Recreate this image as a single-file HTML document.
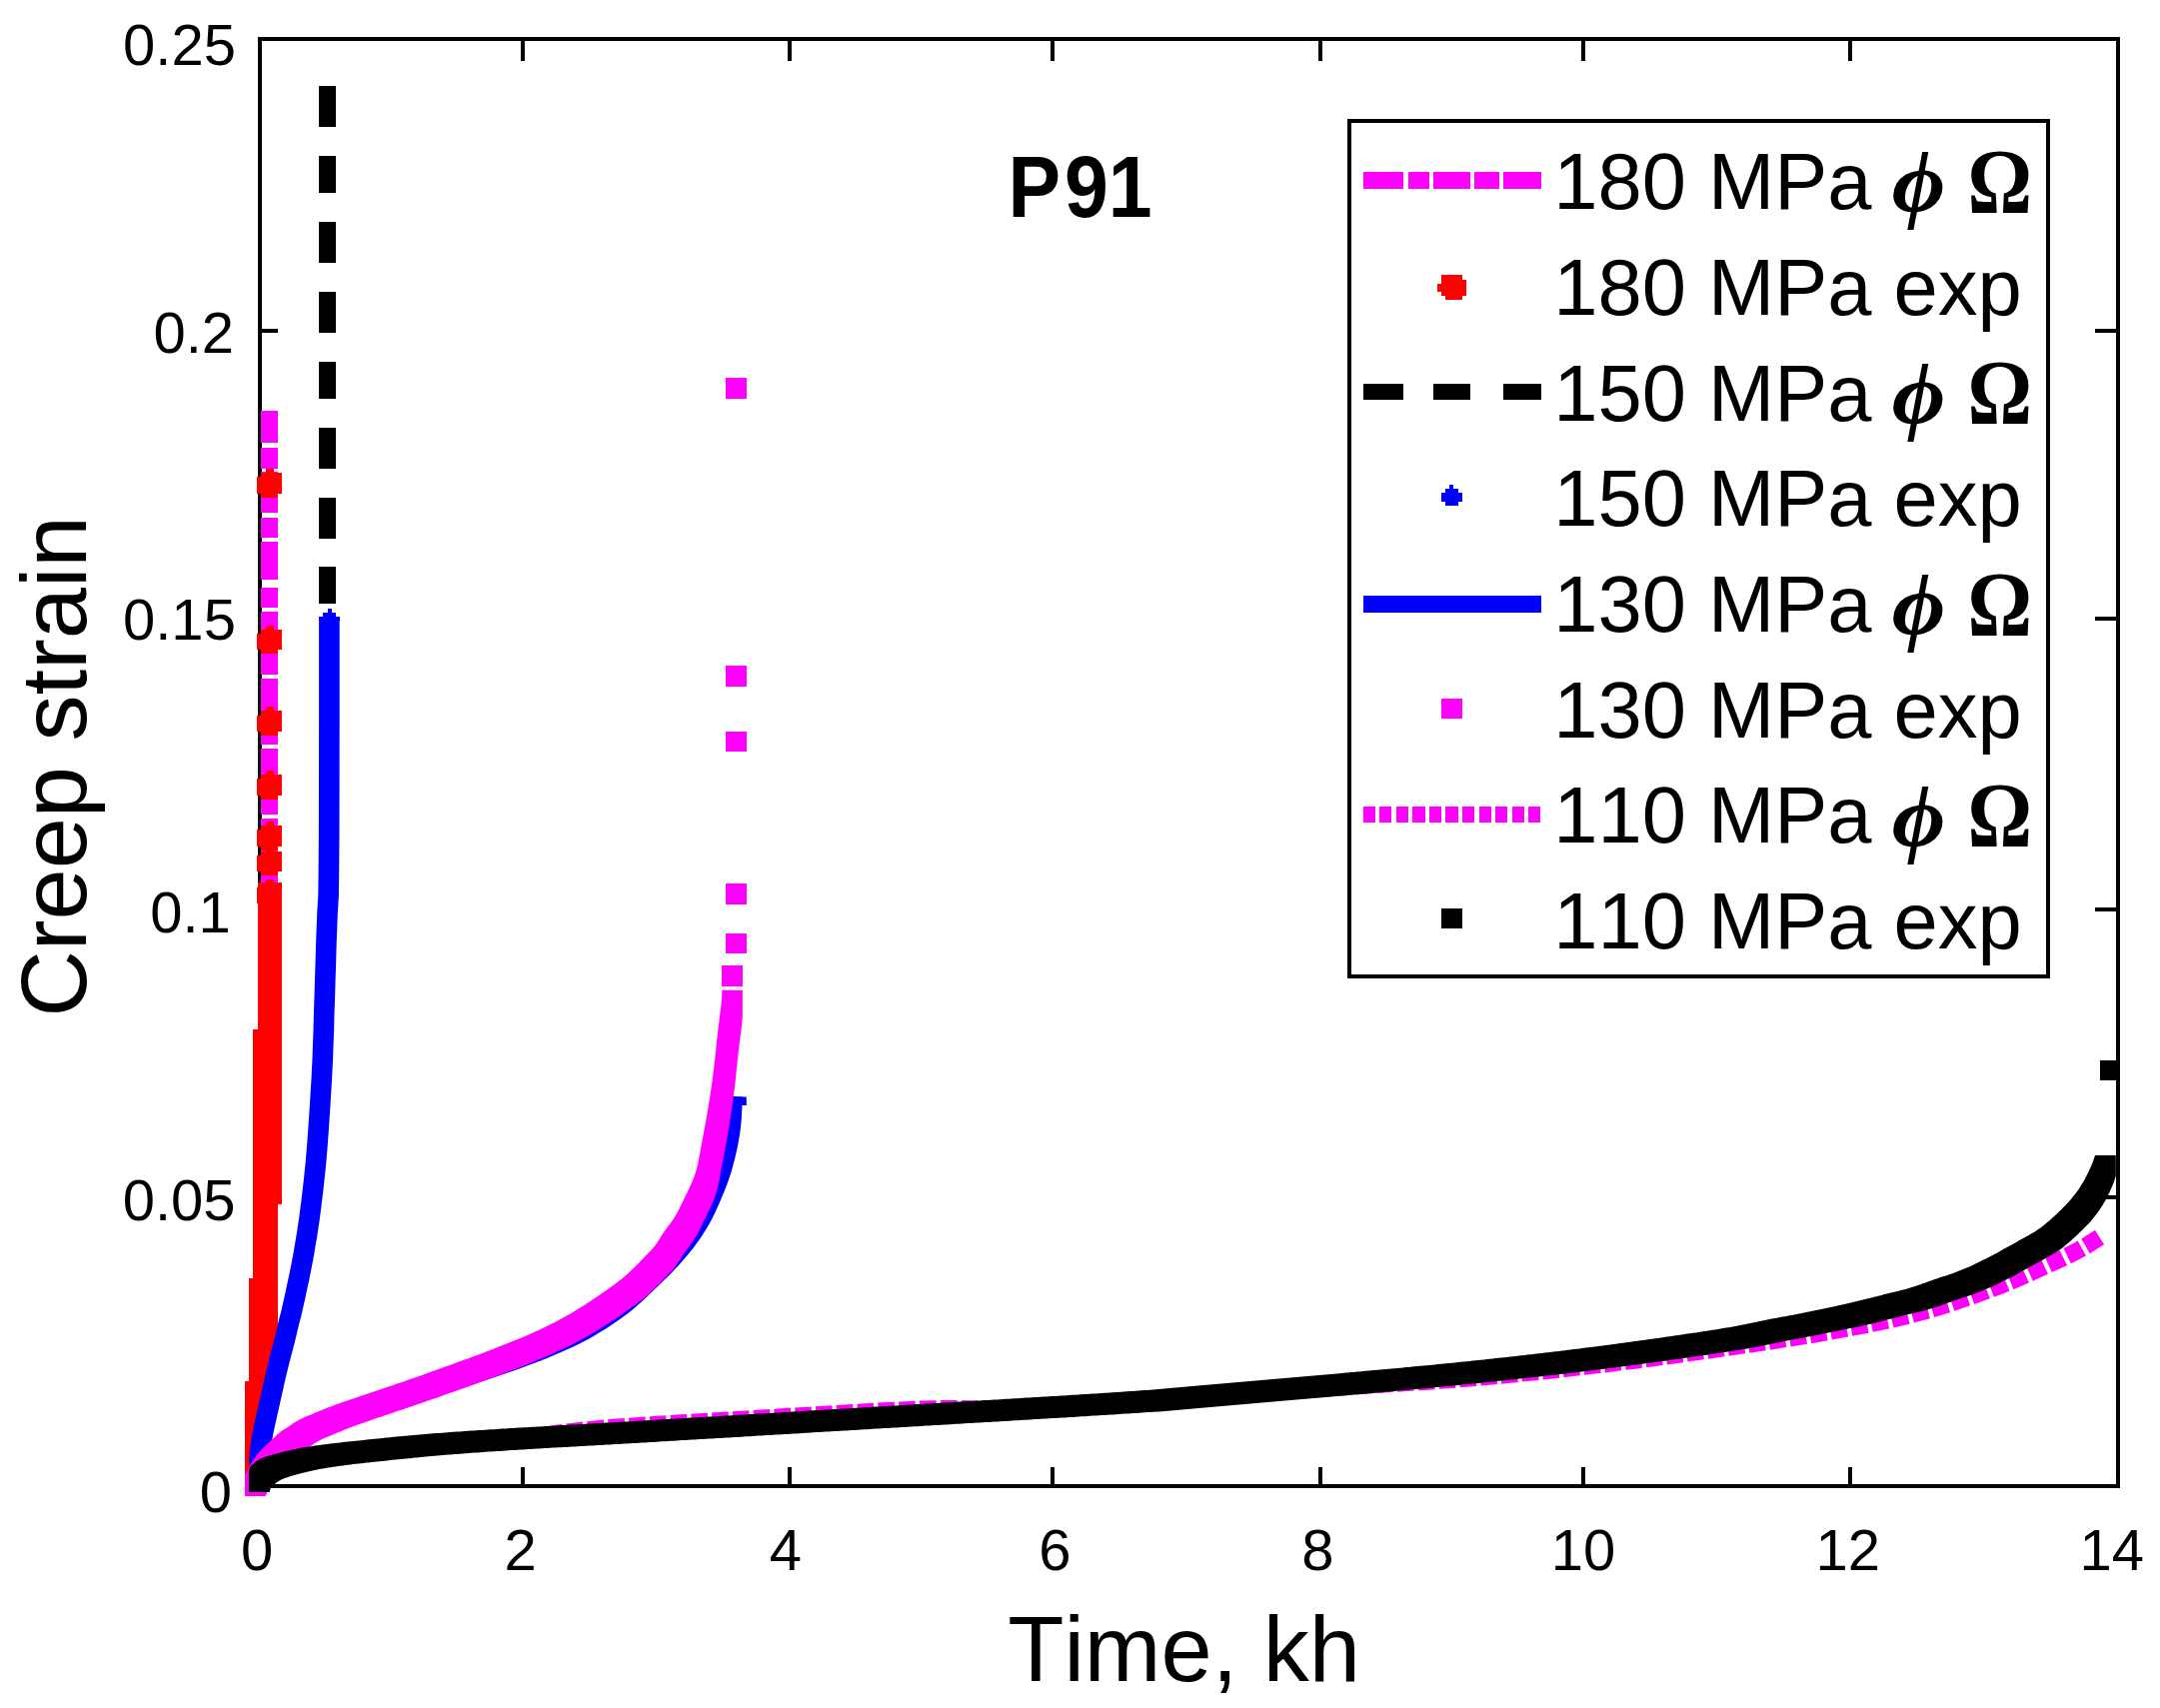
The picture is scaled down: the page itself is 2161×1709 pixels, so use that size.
<!DOCTYPE html>
<html lang="en"><head><meta charset="utf-8"><title>P91 creep strain</title>
<style>html,body{margin:0;padding:0;background:#fff;width:2161px;height:1709px;overflow:hidden}svg{display:block}text{font-family:"Liberation Sans",sans-serif;fill:#000;font-kerning:none}.sy{font-family:"Liberation Serif",serif;font-weight:bold}</style></head><body>
<svg width="2161" height="1709" viewBox="0 0 2161 1709">
<rect x="0" y="0" width="2161" height="1709" fill="#ffffff"/>
<g shape-rendering="crispEdges">
<rect x="259.6" y="38.9" width="1859.1" height="1447.9" fill="none" stroke="#000" stroke-width="3.9"/>
<rect x="520.8" y="1468.3" width="4" height="18.5" fill="#000000"/>
<rect x="520.8" y="38.9" width="4" height="22.5" fill="#000000"/>
<rect x="788.1" y="1468.3" width="4" height="18.5" fill="#000000"/>
<rect x="788.1" y="38.9" width="4" height="22.5" fill="#000000"/>
<rect x="1051.2" y="1468.3" width="4" height="18.5" fill="#000000"/>
<rect x="1051.2" y="38.9" width="4" height="22.5" fill="#000000"/>
<rect x="1318.5" y="1468.3" width="4" height="18.5" fill="#000000"/>
<rect x="1318.5" y="38.9" width="4" height="22.5" fill="#000000"/>
<rect x="1582.2" y="1468.3" width="4" height="18.5" fill="#000000"/>
<rect x="1582.2" y="38.9" width="4" height="22.5" fill="#000000"/>
<rect x="1849.3" y="1468.3" width="4" height="18.5" fill="#000000"/>
<rect x="1849.3" y="38.9" width="4" height="22.5" fill="#000000"/>
<rect x="259.6" y="1195.5" width="18.4" height="4" fill="#000000"/>
<rect x="2096" y="1195.5" width="22.7" height="4" fill="#000000"/>
<rect x="259.6" y="908" width="18.4" height="4" fill="#000000"/>
<rect x="2096" y="908" width="22.7" height="4" fill="#000000"/>
<rect x="259.6" y="617" width="18.4" height="4" fill="#000000"/>
<rect x="2096" y="617" width="22.7" height="4" fill="#000000"/>
<rect x="259.6" y="329" width="18.4" height="4" fill="#000000"/>
<rect x="2096" y="329" width="22.7" height="4" fill="#000000"/>
</g>
<g shape-rendering="crispEdges">
<rect x="261.4" y="410.7" width="16.6" height="32.6" fill="#ff00ff"/>
<rect x="261.4" y="447.8" width="16.6" height="21.2" fill="#ff00ff"/>
<rect x="261.4" y="472" width="16.6" height="41.3" fill="#ff00ff"/>
<rect x="261.4" y="517.9" width="16.6" height="19.7" fill="#ff00ff"/>
<rect x="261.4" y="542.2" width="16.6" height="38.1" fill="#ff00ff"/>
<rect x="261.4" y="587.9" width="16.6" height="19.8" fill="#ff00ff"/>
<rect x="261.4" y="612.2" width="16.6" height="62.4" fill="#ff00ff"/>
<rect x="261.4" y="679.2" width="16.6" height="65.5" fill="#ff00ff"/>
<rect x="261.4" y="749.2" width="16.6" height="65.4" fill="#ff00ff"/>
<rect x="261.4" y="818.6" width="16.6" height="71.4" fill="#ff00ff"/>
<rect x="244.8" y="1382" width="25.2" height="44" fill="#ff0000"/>
<rect x="244.8" y="1425" width="15.2" height="52" fill="#ff0000"/>
<rect x="248.7" y="1279" width="29.3" height="104" fill="#ff0000"/>
<rect x="253" y="1204" width="25" height="76" fill="#ff0000"/>
<rect x="253" y="1030" width="29" height="175" fill="#ff0000"/>
<rect x="257.6" y="883" width="24.4" height="148" fill="#ff0000"/>
</g>
<g shape-rendering="crispEdges">
<polygon fill="#ff0000" points="265.6,468.9 273.9,468.9 273.9,472.9 282,472.9 282,493.6 277.9,493.6 277.9,497.7 261.1,497.7 261.1,493.6 257,493.6 257,477 261.1,477 261.1,472.9 265.6,472.9"/>
<polygon fill="#ff0000" points="265.6,625.6 273.9,625.6 273.9,629.6 282,629.6 282,650.3 277.9,650.3 277.9,654.4 261.1,654.4 261.1,650.3 257,650.3 257,633.7 261.1,633.7 261.1,629.6 265.6,629.6"/>
<polygon fill="#ff0000" points="265.6,707.4 273.9,707.4 273.9,711.4 282,711.4 282,732.1 277.9,732.1 277.9,736.2 261.1,736.2 261.1,732.1 257,732.1 257,715.5 261.1,715.5 261.1,711.4 265.6,711.4"/>
<polygon fill="#ff0000" points="265.6,771.1 273.9,771.1 273.9,775.1 282,775.1 282,795.8 277.9,795.8 277.9,799.9 261.1,799.9 261.1,795.8 257,795.8 257,779.2 261.1,779.2 261.1,775.1 265.6,775.1"/>
<polygon fill="#ff0000" points="265.6,822.3 273.9,822.3 273.9,826.3 282,826.3 282,847 277.9,847 277.9,851.1 261.1,851.1 261.1,847 257,847 257,830.4 261.1,830.4 261.1,826.3 265.6,826.3"/>
<polygon fill="#ff0000" points="265.6,847.6 273.9,847.6 273.9,851.6 282,851.6 282,872.3 277.9,872.3 277.9,876.4 261.1,876.4 261.1,872.3 257,872.3 257,855.7 261.1,855.7 261.1,851.6 265.6,851.6"/>
<polygon fill="#ff0000" points="265.6,879.6 273.9,879.6 273.9,883.6 282,883.6 282,904.3 277.9,904.3 277.9,908.4 261.1,908.4 261.1,904.3 257,904.3 257,887.7 261.1,887.7 261.1,883.6 265.6,883.6"/>
</g>
<g shape-rendering="crispEdges">
<rect x="319" y="86.2" width="16.5" height="41" fill="#000000"/>
<rect x="319" y="156" width="16.5" height="37.2" fill="#000000"/>
<rect x="319" y="222" width="16.5" height="40.8" fill="#000000"/>
<rect x="319" y="292" width="16.5" height="40.6" fill="#000000"/>
<rect x="319" y="361.8" width="16.5" height="36.7" fill="#000000"/>
<rect x="319" y="427.5" width="16.5" height="41" fill="#000000"/>
<rect x="319" y="497.5" width="16.5" height="41" fill="#000000"/>
<rect x="319" y="567.4" width="16.5" height="36.6" fill="#000000"/>
</g>
<path d="M259.5 1478 L259.5 1476.6 L259.5 1473.7 L259.5 1469.4 L259.5 1463.6 L259.7 1457.8 L260.2 1451.9 L261 1446 L261.9 1440 L262.9 1434.3 L264 1428.9 L265.1 1423.9 L266.2 1419.1 L267.2 1414.4 L268.3 1409.8 L269.3 1405.2 L270.3 1400.8 L271.3 1396.2 L272.3 1391.6 L273.4 1386.9 L274.4 1382.1 L275.5 1377.6 L276.5 1373.2 L277.5 1369 L278.5 1365 L279.5 1361 L280.6 1357 L281.6 1353 L282.7 1349 L283.7 1344.9 L284.8 1340.8 L285.8 1336.6 L286.8 1332.4 L287.8 1328.2 L288.8 1324.1 L289.8 1320 L290.9 1316 L291.9 1311.8 L292.9 1307.4 L293.9 1302.9 L295 1298.1 L296 1293.4 L297 1288.6 L298 1283.9 L299.1 1279.1 L300.1 1274.2 L301.1 1269.1 L302.1 1263.8 L303.2 1258.2 L304.2 1252.5 L305.2 1246.4 L306.3 1240.1 L307.4 1233.4 L308.4 1226.5 L309.5 1219.2 L310.5 1211.7 L311.5 1203.8 L312.5 1195.5 L313.5 1186.8 L314.5 1177.8 L315.5 1168.2 L316.5 1157.4 L317.5 1145.1 L318.5 1131.5 L319.5 1116.5 L320.4 1102.9 L321.1 1090.8 L321.8 1080.1 L322.2 1070.9 L322.8 1059.8 L323.2 1046.8 L323.8 1031.9 L324.2 1015.1 L324.8 997.9 L325.3 980.3 L325.9 962.2 L326.4 943.8 L327 927.9 L327.5 914.8 L328.1 904.4 L328.6 896.6 L328.9 874.1 L329.2 836.7 L329.3 784.5 L329.4 717.5 L329.4 667.2 L329.4 633.8 L329.4 617" fill="none" stroke="#0000ff" stroke-width="20.6" stroke-linejoin="round"/>
<polygon shape-rendering="crispEdges" fill="#0000ff" points="327.6,609 331.5,609 331.5,613 335.8,613 335.8,617 339.7,617 339.7,621 319.1,621 319.1,617 323,617 323,613 327.6,613"/>
<path d="M259.5 1485 L260.2 1483.3 L261.5 1479.9 L263.4 1474.9 L266.1 1468.1 L269.7 1461.9 L274.2 1456.3 L279.8 1451.2 L286.2 1446.8 L294 1442.2 L303.1 1437.6 L313.5 1432.9 L325.1 1428.1 L339.6 1422.6 L357 1416.2 L377.2 1409 L400.3 1401 L423.5 1393.1 L446.6 1385.2 L469.8 1377.4 L493 1369.6 L513.3 1362.6 L530.8 1356.2 L545.5 1350.5 L557.3 1345.5 L567.8 1340.8 L577.1 1336.3 L585.1 1332.1 L591.8 1328.1 L598.3 1324.2 L604.6 1320.2 L610.7 1316.2 L616.6 1312.2 L622.5 1307.8 L628.6 1302.9 L634.7 1297.5 L640.9 1291.7 L647.1 1285.9 L653.2 1280 L659.2 1274 L665.3 1268.1 L671.1 1262 L676.6 1255.8 L682 1249.5 L687.1 1243.1 L691.6 1237 L695.6 1231.3 L699.1 1225.8 L702 1220.8 L705 1215.2 L708 1209.1 L711 1202.5 L714 1195.4 L716.8 1188.7 L719.3 1182.3 L721.5 1176.2 L723.4 1170.4 L725.2 1164 L727 1157 L728.8 1149.4 L730.4 1141.2 L731.8 1133 L732.8 1124.9 L733.5 1116.9 L733.9 1108.9 L734.1 1103 L734.3 1099 L734.4 1097" fill="none" stroke="#0000ff" stroke-width="17" stroke-linejoin="round"/>
<rect x="734" y="1097.5" width="12.8" height="8.5" fill="#0000ff"/>
<polygon fill="#ff00ff" points="245,1497 245,1476.4 245.3,1475.7 246.1,1474.2 246.9,1472.4 247.8,1470.8 248.7,1469 249.7,1467.1 250.7,1465.3 251.7,1463.5 252.7,1461.9 253.7,1460.3 254.7,1458.8 255.7,1457.4 256.7,1456.1 257.7,1454.8 258.7,1453.6 259.8,1452.5 260.8,1451.4 261.8,1450.3 262.8,1449.2 263.9,1448.2 264.9,1447.2 266,1446.2 267.1,1445.2 268.1,1444.2 269.2,1443.2 270.3,1442.2 271.4,1441.2 272.4,1440.2 273.4,1439.2 274.5,1438.2 275.5,1437.2 276.5,1436.2 277.5,1435.3 278.5,1434.4 279.6,1433.5 280.7,1432.6 281.9,1431.7 283.1,1430.9 284.5,1430 285.9,1429.2 287.4,1428.2 288.9,1427.2 290.4,1426.2 292,1425.1 293.6,1424 295.2,1423 296.9,1421.9 298.8,1420.9 300.7,1419.9 302.6,1419 304.6,1418.1 306.8,1417.2 309,1416.3 311.2,1415.4 313.3,1414.5 315.5,1413.6 317.7,1412.7 319.9,1411.8 322.1,1410.9 324.1,1410 326,1409.3 327.9,1408.5 329.7,1407.8 331.5,1407.2 333.3,1406.5 335.1,1405.8 337,1405.1 339.1,1404.4 341.3,1403.6 343.7,1402.8 346.1,1401.9 348.6,1401.1 351,1400.2 353.5,1399.4 355.9,1398.5 358.5,1397.7 361,1396.8 363.6,1395.9 366.2,1395.1 368.9,1394.2 371.5,1393.3 374.1,1392.4 376.7,1391.5 379.3,1390.7 381.8,1389.8 384.4,1389 386.9,1388.1 389.4,1387.2 392,1386.4 394.5,1385.5 397.1,1384.6 399.7,1383.7 402.3,1382.9 404.9,1382 407.5,1381 410.1,1380.1 412.8,1379.2 415.4,1378.3 418.1,1377.4 420.8,1376.4 423.5,1375.5 426.2,1374.5 428.9,1373.5 431.6,1372.6 434.4,1371.6 437.1,1370.6 439.9,1369.6 442.7,1368.6 445.5,1367.6 448.3,1366.6 451.1,1365.6 453.9,1364.6 456.6,1363.6 459.3,1362.6 462,1361.6 464.6,1360.6 467.2,1359.7 469.8,1358.7 472.4,1357.8 475,1356.8 477.5,1355.9 480.1,1354.9 482.7,1353.9 485.2,1353 487.8,1352 490.3,1351 492.9,1350 495.4,1349.1 498,1348.1 500.5,1347.1 503,1346.1 505.5,1345.1 508,1344.1 510.5,1343.1 513,1342.1 515.5,1341.1 518,1340 520.5,1339 523,1338 525.4,1336.9 527.9,1335.9 530.3,1334.8 532.7,1333.7 535.1,1332.6 537.5,1331.6 539.9,1330.5 542.3,1329.3 544.6,1328.2 546.9,1327.1 549.2,1326 551.4,1324.8 553.7,1323.7 556,1322.5 558.4,1321.2 560.8,1319.9 563.3,1318.6 565.7,1317.2 568.2,1315.8 570.7,1314.4 573.2,1312.9 575.5,1311.5 577.9,1310.1 580.2,1308.6 582.5,1307.2 584.8,1305.7 587.1,1304.2 589.4,1302.7 591.6,1301.2 593.8,1299.8 596,1298.3 598.1,1296.9 600.1,1295.6 601.9,1294.3 603.7,1293.1 605.4,1291.9 607,1290.7 608.5,1289.6 610,1288.6 611.4,1287.5 612.9,1286.5 614.4,1285.4 615.9,1284.3 617.5,1283.2 619,1282 620.5,1280.8 622.1,1279.6 623.6,1278.3 625.2,1277 626.7,1275.7 628.2,1274.3 629.7,1272.9 631.2,1271.5 632.7,1270 634.2,1268.5 635.8,1267 637.3,1265.4 638.9,1263.9 640.4,1262.3 641.9,1260.7 643.4,1259.2 644.8,1257.7 646.2,1256.3 647.5,1255 648.9,1253.5 650.4,1252.1 651.9,1250.5 653.4,1248.8 654.8,1247 656.3,1245 657.7,1243 658.9,1241.1 660.1,1239.3 661.1,1237.6 662.1,1236 663.1,1234.5 664,1233.1 664.9,1231.8 666,1230.3 667.1,1228.8 668.2,1227.3 669.3,1225.8 670.4,1224.4 671.6,1222.8 672.7,1221.2 673.8,1219.6 674.9,1217.9 676,1216.1 677.1,1214.2 678.1,1212.2 679.2,1210.2 680.2,1208.2 681.2,1206.1 682.2,1204.1 683.2,1202 684.2,1199.9 685.2,1197.8 686.2,1195.8 687.2,1193.7 688.2,1191.7 689.2,1189.6 690.2,1187.5 691.2,1185.3 692.2,1183.1 693.1,1180.8 694,1178.7 694.8,1176.6 695.5,1174.5 696.1,1172.5 696.7,1170.4 697.2,1168.4 697.8,1166.2 698.3,1163.9 698.7,1161.6 699.2,1159.3 699.6,1157 700.1,1154.8 700.4,1152.7 700.8,1150.5 701.2,1148.2 701.7,1145.9 702.1,1143.5 702.6,1140.9 703.1,1138.3 703.6,1135.6 704.1,1133 704.6,1130.3 705.1,1127.6 705.6,1124.9 706.1,1122.1 706.6,1119.4 707.1,1116.8 707.5,1114.3 707.9,1111.8 708.3,1109.5 708.7,1107.3 709,1105.2 709.3,1103.1 709.7,1101 710,1098.8 710.4,1096.6 710.7,1094.4 711,1092.2 711.4,1089.9 711.7,1087.6 712,1085.3 712.4,1082.9 712.7,1080.5 713,1077.9 713.4,1075.3 713.7,1072.6 714.1,1069.9 714.4,1067.2 714.7,1064.5 715,1061.9 715.3,1059.3 715.6,1056.8 715.8,1054.3 716.1,1051.7 716.3,1049.2 716.6,1046.7 716.9,1044.1 717.1,1041.6 717.4,1039.1 717.7,1036.5 718,1033.9 718.3,1031.2 718.6,1028.5 718.9,1025.8 719.3,1023.1 719.6,1020.5 719.9,1018 720.2,1015.4 720.6,1012.8 720.9,1010.3 721.2,1007.8 721.5,1005.4 721.7,1003 721.9,1000.7 722.1,998.5 722.2,996.5 722.2,994.8 722.3,993.1 722.3,991.5 722.3,990.7 742.9,990.7 742.9,1011.3 742.9,1012.1 742.9,1013.7 742.8,1015.4 742.8,1017.1 742.7,1019.1 742.5,1021.3 742.3,1023.6 742.1,1026 741.8,1028.4 741.5,1030.9 741.2,1033.4 740.8,1036 740.5,1038.5 740.2,1041.1 739.9,1043.7 739.5,1046.4 739.2,1049.1 738.9,1051.8 738.6,1054.5 738.3,1057.1 738,1059.7 737.7,1062.2 737.5,1064.7 737.2,1067.3 736.9,1069.8 736.7,1072.3 736.4,1074.9 736.2,1077.4 735.9,1079.9 735.6,1082.5 735.3,1085.1 735,1087.8 734.7,1090.5 734.3,1093.2 734,1095.9 733.6,1098.5 733.3,1101 733,1103.5 732.6,1105.9 732.3,1108.2 732,1110.5 731.6,1112.8 731.3,1115 731,1117.2 730.6,1119.4 730.3,1121.6 729.9,1123.7 729.6,1125.8 729.3,1127.9 728.9,1130.1 728.5,1132.4 728.1,1134.9 727.7,1137.4 727.2,1140 726.7,1142.7 726.2,1145.5 725.7,1148.2 725.2,1150.9 724.7,1153.6 724.2,1156.2 723.7,1158.9 723.2,1161.5 722.7,1164.1 722.3,1166.5 721.8,1168.8 721.4,1171.1 721,1173.3 720.7,1175.4 720.2,1177.6 719.8,1179.9 719.3,1182.2 718.9,1184.5 718.4,1186.8 717.8,1189 717.3,1191 716.7,1193.1 716.1,1195.1 715.4,1197.2 714.6,1199.3 713.7,1201.4 712.8,1203.7 711.8,1205.9 710.8,1208.1 709.8,1210.2 708.8,1212.3 707.8,1214.3 706.8,1216.4 705.8,1218.4 704.8,1220.5 703.8,1222.6 702.8,1224.7 701.8,1226.7 700.8,1228.8 699.8,1230.8 698.7,1232.8 697.7,1234.8 696.6,1236.7 695.5,1238.5 694.4,1240.2 693.3,1241.8 692.2,1243.4 691,1245 689.9,1246.4 688.8,1247.9 687.7,1249.4 686.6,1250.9 685.5,1252.4 684.6,1253.7 683.7,1255.1 682.7,1256.6 681.7,1258.2 680.7,1259.9 679.5,1261.7 678.3,1263.6 676.9,1265.6 675.4,1267.6 674,1269.4 672.5,1271.1 671,1272.7 669.5,1274.1 668.1,1275.6 666.8,1276.9 665.4,1278.3 664,1279.8 662.5,1281.3 661,1282.9 659.5,1284.5 657.9,1286 656.4,1287.6 654.8,1289.1 653.3,1290.6 651.8,1292.1 650.3,1293.5 648.8,1294.9 647.3,1296.3 645.8,1297.6 644.2,1298.9 642.7,1300.2 641.1,1301.4 639.6,1302.6 638.1,1303.8 636.5,1304.9 635,1306 633.5,1307.1 632,1308.1 630.6,1309.2 629.1,1310.2 627.6,1311.3 626,1312.5 624.3,1313.7 622.5,1314.9 620.7,1316.2 618.7,1317.5 616.6,1318.9 614.4,1320.4 612.2,1321.8 610,1323.3 607.7,1324.8 605.4,1326.3 603.1,1327.8 600.8,1329.2 598.5,1330.7 596.1,1332.1 593.8,1333.5 591.3,1335 588.8,1336.4 586.3,1337.8 583.9,1339.2 581.4,1340.5 579,1341.8 576.6,1343.1 574.3,1344.3 572,1345.4 569.8,1346.6 567.5,1347.7 565.2,1348.8 562.9,1349.9 560.5,1351.1 558.1,1352.2 555.7,1353.2 553.3,1354.3 550.9,1355.4 548.5,1356.5 546,1357.5 543.6,1358.6 541.1,1359.6 538.6,1360.6 536.1,1361.7 533.6,1362.7 531.1,1363.7 528.6,1364.7 526.1,1365.7 523.6,1366.7 521.1,1367.7 518.6,1368.7 516,1369.7 513.5,1370.6 510.9,1371.6 508.4,1372.6 505.8,1373.6 503.3,1374.5 500.7,1375.5 498.1,1376.5 495.6,1377.4 493,1378.4 490.4,1379.3 487.8,1380.3 485.2,1381.2 482.6,1382.2 479.9,1383.2 477.2,1384.2 474.5,1385.2 471.7,1386.2 468.9,1387.2 466.1,1388.2 463.3,1389.2 460.5,1390.2 457.7,1391.2 455,1392.2 452.2,1393.2 449.5,1394.1 446.8,1395.1 444.1,1396.1 441.4,1397 438.7,1398 436,1398.9 433.4,1399.8 430.7,1400.7 428.1,1401.6 425.5,1402.5 422.9,1403.5 420.3,1404.3 417.7,1405.2 415.1,1406.1 412.6,1407 410,1407.8 407.5,1408.7 405,1409.5 402.4,1410.4 399.9,1411.3 397.3,1412.1 394.7,1413 392.1,1413.9 389.5,1414.8 386.8,1415.7 384.2,1416.5 381.6,1417.4 379.1,1418.3 376.5,1419.1 374.1,1420 371.6,1420.8 369.2,1421.7 366.7,1422.5 364.3,1423.4 361.9,1424.2 359.7,1425 357.6,1425.7 355.7,1426.4 353.9,1427.1 352.1,1427.8 350.3,1428.4 348.5,1429.1 346.6,1429.9 344.7,1430.6 342.7,1431.5 340.5,1432.4 338.3,1433.3 336.1,1434.2 333.9,1435.1 331.8,1436 329.6,1436.9 327.4,1437.8 325.2,1438.7 323.2,1439.6 321.3,1440.5 319.4,1441.5 317.5,1442.5 315.8,1443.6 314.2,1444.6 312.6,1445.7 311,1446.8 309.5,1447.8 308,1448.8 306.5,1449.8 305.1,1450.6 303.7,1451.5 302.5,1452.3 301.3,1453.2 300.2,1454 299.1,1455 298.1,1455.9 297.1,1456.8 296.1,1457.8 295.1,1458.8 294,1459.8 293,1460.8 292,1461.8 290.9,1462.8 289.8,1463.8 288.7,1464.8 287.7,1465.8 286.6,1466.8 285.5,1467.8 284.5,1468.8 283.4,1469.8 282.4,1470.9 281.4,1472 280.4,1473.1 279.3,1474.2 278.3,1475.4 277.3,1476.7 276.3,1478 275.3,1479.4 274.3,1480.9 273.3,1482.5 272.3,1484.1 271.3,1485.9 270.3,1487.7 269.3,1489.6 268.4,1491.4 267.5,1493 266.7,1494.8 265.9,1496.3 265.6,1497"/>
<g shape-rendering="crispEdges">
<rect x="722.3" y="966.3" width="20.4" height="20.4" fill="#ff00ff"/>
<rect x="726.3" y="933.8" width="20.4" height="20.4" fill="#ff00ff"/>
<rect x="726.3" y="884.1" width="20.4" height="20.4" fill="#ff00ff"/>
<rect x="726.3" y="731.8" width="20.4" height="20.4" fill="#ff00ff"/>
<rect x="726.3" y="666.2" width="20.4" height="20.4" fill="#ff00ff"/>
<rect x="726.3" y="378.2" width="20.4" height="20.4" fill="#ff00ff"/>
</g>
<path d="M2100.5 1238 L2099.1 1238.9 L2096.4 1240.6 L2092.3 1243.2 L2086.8 1246.8 L2080.2 1250.5 L2072.5 1254.5 L2063.8 1258.8 L2053.9 1263.2 L2043.9 1267.8 L2034 1272.2 L2024 1276.8 L2014 1281.2 L2001.5 1286.3 L1986.5 1291.9 L1969 1298.1 L1949 1304.9 L1929.1 1310.9 L1909.2 1316.3 L1889.4 1321 L1869.6 1325 L1849.8 1328.8 L1829.9 1332.4 L1810 1335.9 L1790 1339.1 L1766 1342.8 L1738.1 1346.9 L1706.3 1351.5 L1670.4 1356.5 L1634.9 1361.2 L1599.6 1365.6 L1564.6 1369.6 L1529.9 1373.4 L1495.2 1376.8 L1460.5 1379.8 L1425.7 1382.4 L1391.1 1384.6 L1353.6 1387.2 L1313.3 1390.1 L1270.2 1393.2 L1224.4 1396.8 L1180.3 1399.9 L1137.9 1402.7 L1097.2 1405.2 L1058.3 1407.3 L1025.4 1408.8 L998.5 1409.7 L977.5 1409.9 L962.5 1409.6 L947.4 1409.5 L932.1 1409.7 L916.7 1410.1 L901.1 1410.9 L874.6 1412.3 L837.1 1414.5 L788.6 1417.3 L729.2 1420.9 L680.8 1423.8 L643.6 1426.2 L617.5 1428 L602.5 1429.2 L588 1430.6 L574 1432.1 L560.4 1433.8 L547.4 1435.7 L531.8 1437.5 L513.7 1439.2 L493 1440.9 L469.8 1442.6 L446.6 1444.5 L423.5 1446.7 L400.3 1449.1 L377.2 1451.9 L357.3 1454.4 L340.4 1456.6 L326.6 1458.6 L316 1460.4 L305.5 1462.8 L295.1 1465.9 L284.8 1469.8 L274.7 1474.2 L267.1 1477.6 L262 1479.9 L259.5 1481" fill="none" stroke="#ff00ff" stroke-width="17" stroke-dasharray="16.6 4.2"/>
<polygon fill="#000000" points="248.9,1492.9 248.9,1472.1 249,1471.6 249.3,1470.5 249.7,1469.2 250.2,1468 250.9,1466.9 252,1465.8 253.3,1464.9 254.3,1463.9 255.4,1463 256.5,1462.1 257.8,1461.2 259.2,1460.4 260.6,1459.6 262.2,1458.9 263.8,1458.3 265.5,1457.7 267.3,1457.1 269.1,1456.5 270.9,1455.9 272.7,1455.4 274.5,1454.9 276.4,1454.4 278.3,1453.9 280.2,1453.4 282.2,1452.9 284.3,1452.4 286.4,1451.9 288.5,1451.4 290.7,1450.9 292.9,1450.4 295.2,1449.9 297.6,1449.5 299.9,1449 302.4,1448.6 304.8,1448.2 307.3,1447.8 309.8,1447.4 312.3,1447 314.9,1446.6 317.4,1446.2 319.9,1445.9 322.5,1445.6 325,1445.2 327.6,1444.9 330.1,1444.6 332.7,1444.3 335.3,1444 337.9,1443.7 340.4,1443.4 343,1443.1 345.6,1442.8 348.2,1442.6 350.7,1442.3 353.4,1442 356,1441.7 358.7,1441.4 361.3,1441.2 364,1440.9 366.7,1440.6 369.4,1440.3 372.1,1440 374.8,1439.8 377.5,1439.5 380.2,1439.2 382.9,1438.9 385.7,1438.6 388.5,1438.4 391.3,1438.1 394.1,1437.8 396.9,1437.6 399.7,1437.3 402.5,1437 405.3,1436.8 408.1,1436.5 410.9,1436.2 413.8,1436 416.6,1435.7 419.4,1435.5 422.3,1435.3 425.1,1435 427.9,1434.8 430.8,1434.6 433.6,1434.3 436.5,1434.1 439.3,1433.9 442.2,1433.7 445.1,1433.4 447.9,1433.2 450.8,1433 453.7,1432.8 456.6,1432.6 459.5,1432.4 462.3,1432.2 465.2,1432 468.1,1431.8 471,1431.6 473.9,1431.4 476.7,1431.2 479.6,1431.1 482.4,1430.9 485.3,1430.7 488.1,1430.5 491,1430.3 493.8,1430.2 496.6,1430 499.4,1429.8 502.2,1429.6 505,1429.5 507.8,1429.3 510.5,1429.1 513.3,1429 516,1428.8 518.7,1428.6 521.5,1428.5 524.2,1428.3 526.9,1428.2 529.5,1428 532.3,1427.8 535,1427.7 537.7,1427.5 540.4,1427.4 543.2,1427.2 546,1427.1 548.8,1426.9 551.6,1426.7 554.4,1426.6 557.2,1426.4 560.1,1426.3 562.9,1426.1 565.8,1425.9 568.8,1425.8 571.7,1425.6 574.6,1425.4 577.5,1425.3 580.5,1425.1 583.4,1424.9 586.3,1424.8 589.2,1424.6 592.2,1424.4 595.1,1424.3 598,1424.1 600.9,1423.9 603.8,1423.8 606.8,1423.6 609.7,1423.4 612.6,1423.3 615.5,1423.1 618.4,1422.9 621.3,1422.7 624.3,1422.6 627.2,1422.4 630.1,1422.2 633,1422.1 635.9,1421.9 638.8,1421.7 641.8,1421.5 644.7,1421.4 647.6,1421.2 650.5,1421 653.4,1420.9 656.3,1420.7 659.2,1420.5 662.2,1420.3 665.1,1420.2 668,1420 670.9,1419.8 673.8,1419.7 676.7,1419.5 679.6,1419.3 682.5,1419.1 685.5,1419 688.4,1418.8 691.3,1418.6 694.2,1418.4 697.1,1418.3 700,1418.1 702.9,1417.9 705.8,1417.8 708.8,1417.6 711.7,1417.4 714.6,1417.2 717.5,1417.1 720.4,1416.9 723.3,1416.7 726.2,1416.5 729.1,1416.4 732,1416.2 735,1416 737.9,1415.8 740.8,1415.7 743.7,1415.5 746.6,1415.3 749.5,1415.1 752.4,1415 755.3,1414.8 758.3,1414.6 761.2,1414.4 764.1,1414.3 767,1414.1 770,1413.9 772.9,1413.7 775.8,1413.6 778.7,1413.4 781.7,1413.2 784.6,1413 787.5,1412.9 790.5,1412.7 793.4,1412.5 796.4,1412.3 799.3,1412.2 802.2,1412 805.2,1411.8 808.1,1411.6 811,1411.5 814,1411.3 816.9,1411.1 819.9,1410.9 822.8,1410.8 825.8,1410.6 828.7,1410.4 831.6,1410.2 834.6,1410.1 837.6,1409.9 840.5,1409.7 843.5,1409.5 846.4,1409.4 849.4,1409.2 852.3,1409 855.3,1408.8 858.3,1408.7 861.2,1408.5 864.2,1408.3 867.2,1408.1 870.1,1407.9 873.1,1407.8 876.1,1407.6 879,1407.4 882,1407.2 885,1407.1 887.9,1406.9 890.9,1406.7 893.9,1406.5 896.8,1406.4 899.8,1406.2 902.8,1406 905.8,1405.8 908.8,1405.6 911.7,1405.5 914.7,1405.3 917.7,1405.1 920.7,1404.9 923.7,1404.8 926.7,1404.6 929.7,1404.4 932.7,1404.2 935.7,1404 938.7,1403.9 941.7,1403.7 944.6,1403.5 947.6,1403.3 950.6,1403.2 953.6,1403 956.6,1402.8 959.6,1402.6 962.5,1402.5 965.5,1402.3 968.4,1402.1 971.4,1401.9 974.3,1401.7 977.3,1401.6 980.2,1401.4 983.1,1401.2 986,1401.1 988.9,1400.9 991.8,1400.7 994.7,1400.5 997.6,1400.4 1000.5,1400.2 1003.4,1400 1006.3,1399.8 1009.2,1399.7 1012.1,1399.5 1015,1399.3 1017.9,1399.2 1020.8,1399 1023.7,1398.8 1026.6,1398.6 1029.4,1398.5 1032.3,1398.3 1035.2,1398.1 1038.1,1398 1041,1397.8 1043.9,1397.6 1046.8,1397.4 1049.7,1397.3 1052.6,1397.1 1055.5,1396.9 1058.3,1396.7 1061.2,1396.5 1064.1,1396.4 1067,1396.2 1069.9,1396 1072.8,1395.8 1075.7,1395.7 1078.6,1395.5 1081.4,1395.3 1084.3,1395.1 1087.2,1394.9 1090.1,1394.8 1093,1394.6 1095.9,1394.4 1098.7,1394.2 1101.6,1394 1104.5,1393.8 1107.4,1393.7 1110.3,1393.5 1113.1,1393.3 1116,1393.1 1118.9,1392.9 1121.8,1392.7 1124.6,1392.5 1127.5,1392.3 1130.4,1392.1 1133.3,1391.9 1136.1,1391.7 1139,1391.5 1141.8,1391.3 1144.7,1391.1 1147.6,1390.9 1150.4,1390.7 1153.2,1390.5 1156.1,1390.3 1158.9,1390 1161.7,1389.8 1164.6,1389.5 1167.4,1389.3 1170.2,1389 1173,1388.8 1175.9,1388.5 1178.7,1388.3 1181.5,1388 1184.3,1387.7 1187.2,1387.5 1190,1387.2 1192.9,1387 1195.7,1386.7 1198.6,1386.4 1201.4,1386.2 1204.3,1385.9 1207.2,1385.7 1210,1385.4 1212.9,1385.2 1215.8,1384.9 1218.7,1384.7 1221.6,1384.4 1224.4,1384.2 1227.3,1383.9 1230.2,1383.7 1233.1,1383.4 1236,1383.2 1238.9,1382.9 1241.7,1382.7 1244.6,1382.4 1247.5,1382.2 1250.4,1381.9 1253.3,1381.7 1256.2,1381.4 1259.1,1381.2 1262,1381 1264.9,1380.7 1267.8,1380.5 1270.7,1380.2 1273.6,1380 1276.5,1379.7 1279.4,1379.5 1282.3,1379.2 1285.2,1379 1288.1,1378.7 1290.9,1378.5 1293.8,1378.2 1296.7,1378 1299.6,1377.7 1302.5,1377.5 1305.4,1377.2 1308.3,1377 1311.2,1376.7 1314.1,1376.5 1317,1376.2 1319.9,1375.9 1322.8,1375.7 1325.7,1375.4 1328.6,1375.2 1331.5,1374.9 1334.4,1374.7 1337.3,1374.4 1340.1,1374.2 1343,1373.9 1345.9,1373.6 1348.8,1373.4 1351.7,1373.1 1354.6,1372.9 1357.5,1372.6 1360.4,1372.4 1363.3,1372.1 1366.2,1371.8 1369.1,1371.6 1372,1371.3 1374.9,1371.1 1377.8,1370.8 1380.6,1370.5 1383.5,1370.3 1386.4,1370 1389.3,1369.7 1392.2,1369.5 1395.1,1369.2 1398,1368.9 1400.9,1368.7 1403.8,1368.4 1406.7,1368.1 1409.6,1367.9 1412.5,1367.6 1415.4,1367.3 1418.2,1367.1 1421.1,1366.8 1424,1366.5 1426.9,1366.2 1429.8,1366 1432.7,1365.7 1435.6,1365.4 1438.5,1365.1 1441.4,1364.8 1444.3,1364.5 1447.2,1364.2 1450.1,1363.9 1452.9,1363.7 1455.8,1363.4 1458.7,1363.1 1461.6,1362.8 1464.5,1362.5 1467.4,1362.2 1470.3,1361.9 1473.2,1361.6 1476.1,1361.3 1479,1361 1481.9,1360.7 1484.8,1360.4 1487.7,1360.1 1490.6,1359.7 1493.4,1359.4 1496.3,1359.1 1499.2,1358.8 1502.1,1358.5 1505,1358.2 1507.9,1357.9 1510.8,1357.5 1513.7,1357.2 1516.6,1356.9 1519.5,1356.6 1522.4,1356.2 1525.3,1355.9 1528.2,1355.6 1531.1,1355.3 1534,1354.9 1536.9,1354.6 1539.7,1354.3 1542.6,1353.9 1545.5,1353.6 1548.4,1353.2 1551.3,1352.9 1554.2,1352.6 1557.1,1352.2 1560,1351.9 1562.9,1351.5 1565.8,1351.2 1568.7,1350.8 1571.6,1350.5 1574.5,1350.1 1577.4,1349.7 1580.3,1349.4 1583.2,1349 1586.1,1348.6 1589,1348.3 1591.9,1347.9 1594.8,1347.5 1597.8,1347.2 1600.7,1346.8 1603.6,1346.4 1606.5,1346 1609.4,1345.7 1612.3,1345.3 1615.2,1344.9 1618.1,1344.5 1621,1344.1 1623.9,1343.7 1626.9,1343.3 1629.8,1342.9 1632.7,1342.5 1635.6,1342.1 1638.5,1341.7 1641.4,1341.3 1644.3,1340.9 1647.3,1340.5 1650.2,1340.1 1653.1,1339.7 1656,1339.3 1658.9,1338.9 1661.8,1338.5 1664.8,1338 1667.7,1337.6 1670.6,1337.2 1673.5,1336.8 1676.4,1336.3 1679.3,1335.9 1682.2,1335.5 1685.1,1335.1 1688,1334.6 1690.8,1334.2 1693.6,1333.8 1696.5,1333.4 1699.3,1333 1702.1,1332.5 1704.8,1332.1 1707.6,1331.7 1710.4,1331.3 1713.2,1330.8 1715.9,1330.4 1718.7,1330 1721.4,1329.5 1724.2,1329.1 1726.9,1328.6 1729.6,1328.2 1732.3,1327.7 1734.9,1327.3 1737.5,1326.8 1740,1326.3 1742.6,1325.8 1745.1,1325.3 1747.6,1324.8 1750.1,1324.2 1752.6,1323.7 1755,1323.2 1757.4,1322.7 1759.7,1322.2 1762.1,1321.7 1764.5,1321.2 1766.8,1320.7 1769.1,1320.2 1771.4,1319.8 1773.8,1319.3 1776.2,1318.9 1778.7,1318.5 1781.1,1318.1 1783.4,1317.6 1785.8,1317.2 1788.1,1316.8 1790.4,1316.3 1792.8,1315.9 1795.1,1315.4 1797.5,1314.9 1800,1314.4 1802.4,1313.9 1804.8,1313.5 1807.2,1313 1809.6,1312.5 1812.1,1312 1814.5,1311.5 1816.9,1311 1819.4,1310.5 1821.9,1310 1824.3,1309.5 1826.8,1309 1829.2,1308.5 1831.6,1308 1833.9,1307.6 1836.2,1307.1 1838.4,1306.6 1840.7,1306.1 1843,1305.6 1845.2,1305.1 1847.3,1304.6 1849.5,1304.1 1851.6,1303.6 1853.6,1303.1 1855.7,1302.6 1857.7,1302.1 1859.8,1301.6 1861.8,1301.1 1863.9,1300.5 1865.9,1300 1868,1299.5 1870.1,1299 1872.1,1298.5 1874.2,1297.9 1876.2,1297.4 1878.3,1296.9 1880.3,1296.4 1882.4,1295.9 1884.5,1295.3 1886.6,1294.8 1888.7,1294.3 1890.9,1293.8 1893.1,1293.3 1895.3,1292.7 1897.5,1292.2 1899.7,1291.7 1901.9,1291.1 1904.1,1290.6 1906.2,1290 1908.3,1289.4 1910.4,1288.8 1912.5,1288.1 1914.6,1287.4 1916.7,1286.7 1918.7,1286.1 1920.7,1285.4 1922.6,1284.8 1924.5,1284.1 1926.4,1283.5 1928.2,1282.8 1930,1282.1 1931.9,1281.4 1933.8,1280.7 1935.7,1280 1937.6,1279.4 1939.5,1278.7 1941.4,1278.1 1943.2,1277.5 1945.2,1277 1947,1276.4 1948.9,1275.8 1950.8,1275.1 1952.7,1274.5 1954.6,1273.8 1956.4,1273 1958.3,1272.3 1960.2,1271.5 1962,1270.8 1963.8,1270.1 1965.7,1269.3 1967.6,1268.5 1969.6,1267.7 1971.6,1266.9 1973.5,1266 1975.4,1265.1 1977.4,1264.1 1979.2,1263.2 1981,1262.2 1982.9,1261.3 1984.8,1260.3 1986.8,1259.4 1988.6,1258.5 1990.6,1257.6 1992.5,1256.6 1994.4,1255.6 1996.2,1254.6 1997.9,1253.7 1999.6,1252.7 2001.3,1251.7 2003,1250.7 2004.7,1249.7 2006.6,1248.7 2008.4,1247.7 2010.3,1246.7 2012.1,1245.8 2014,1244.7 2015.8,1243.7 2017.7,1242.7 2019.5,1241.6 2021.3,1240.6 2023.2,1239.6 2025,1238.6 2026.8,1237.5 2028.6,1236.5 2030.4,1235.5 2032.1,1234.5 2033.9,1233.5 2035.7,1232.4 2037.4,1231.3 2039.2,1230.1 2040.9,1228.9 2042.7,1227.6 2044.5,1226.2 2046.2,1224.8 2047.9,1223.3 2049.6,1221.9 2051.3,1220.4 2053.1,1218.8 2054.8,1217.3 2056.5,1215.8 2058.1,1214.3 2059.6,1212.8 2061.1,1211.3 2062.5,1209.9 2063.9,1208.5 2065.2,1207.2 2066.4,1206 2067.6,1204.8 2068.7,1203.6 2069.8,1202.4 2070.9,1201.1 2072,1199.9 2073,1198.6 2074,1197.3 2075.1,1196 2076.1,1194.7 2077.2,1193.3 2078.2,1191.9 2079.3,1190.4 2080.3,1188.9 2081.3,1187.3 2082.4,1185.6 2083.4,1183.9 2084.4,1182.2 2085.5,1180.4 2086.5,1178.5 2087.5,1176.6 2088.4,1174.7 2089.4,1172.8 2090.3,1170.8 2091.1,1168.9 2092,1166.9 2092.9,1164.8 2093.8,1162.7 2094.5,1160.6 2095.1,1158.8 2095.7,1157 2096,1156 2116.8,1156 2116.8,1176.8 2116.5,1177.8 2115.9,1179.6 2115.3,1181.4 2114.6,1183.5 2113.7,1185.6 2112.8,1187.7 2111.9,1189.7 2111.1,1191.6 2110.2,1193.6 2109.2,1195.5 2108.3,1197.4 2107.3,1199.3 2106.3,1201.2 2105.2,1203 2104.2,1204.7 2103.2,1206.4 2102.1,1208.1 2101.1,1209.7 2100.1,1211.2 2099,1212.7 2098,1214.1 2096.9,1215.5 2095.9,1216.8 2094.8,1218.1 2093.8,1219.4 2092.8,1220.7 2091.7,1221.9 2090.6,1223.2 2089.5,1224.4 2088.4,1225.6 2087.2,1226.8 2086,1228 2084.7,1229.3 2083.3,1230.7 2081.9,1232.1 2080.4,1233.6 2078.9,1235.1 2077.3,1236.6 2075.6,1238.1 2073.9,1239.6 2072.1,1241.2 2070.4,1242.7 2068.7,1244.1 2067,1245.6 2065.3,1247 2063.5,1248.4 2061.7,1249.7 2060,1250.9 2058.2,1252.1 2056.5,1253.2 2054.7,1254.3 2052.9,1255.3 2051.2,1256.3 2049.4,1257.3 2047.6,1258.3 2045.8,1259.4 2044,1260.4 2042.1,1261.4 2040.3,1262.4 2038.5,1263.5 2036.6,1264.5 2034.8,1265.5 2032.9,1266.6 2031.1,1267.5 2029.2,1268.5 2027.4,1269.5 2025.5,1270.5 2023.8,1271.5 2022.1,1272.5 2020.4,1273.5 2018.7,1274.5 2017,1275.4 2015.2,1276.4 2013.3,1277.4 2011.4,1278.4 2009.4,1279.3 2007.6,1280.2 2005.6,1281.1 2003.7,1282.1 2001.8,1283 2000,1284 1998.2,1284.9 1996.2,1285.9 1994.3,1286.8 1992.4,1287.7 1990.4,1288.5 1988.4,1289.3 1986.5,1290.1 1984.6,1290.9 1982.8,1291.6 1981,1292.3 1979.1,1293.1 1977.2,1293.8 1975.4,1294.6 1973.5,1295.3 1971.6,1295.9 1969.7,1296.6 1967.8,1297.2 1966,1297.8 1964,1298.3 1962.2,1298.9 1960.3,1299.5 1958.4,1300.2 1956.5,1300.8 1954.6,1301.5 1952.7,1302.2 1950.8,1302.9 1949,1303.6 1947.2,1304.3 1945.3,1304.9 1943.4,1305.6 1941.5,1306.2 1939.5,1306.9 1937.5,1307.5 1935.4,1308.2 1933.3,1308.9 1931.2,1309.6 1929.1,1310.2 1927,1310.8 1924.9,1311.4 1922.7,1311.9 1920.5,1312.5 1918.3,1313 1916.1,1313.5 1913.9,1314.1 1911.7,1314.6 1909.5,1315.1 1907.4,1315.6 1905.3,1316.1 1903.2,1316.7 1901.1,1317.2 1899.1,1317.7 1897,1318.2 1895,1318.8 1892.9,1319.3 1890.9,1319.8 1888.8,1320.3 1886.7,1320.8 1884.7,1321.3 1882.6,1321.9 1880.6,1322.4 1878.5,1322.9 1876.5,1323.4 1874.4,1323.9 1872.4,1324.4 1870.3,1324.9 1868.1,1325.4 1866,1325.9 1863.8,1326.4 1861.5,1326.9 1859.2,1327.4 1857,1327.9 1854.7,1328.4 1852.4,1328.8 1850,1329.3 1847.6,1329.8 1845.1,1330.3 1842.7,1330.8 1840.2,1331.3 1837.7,1331.8 1835.3,1332.3 1832.9,1332.8 1830.4,1333.3 1828,1333.8 1825.6,1334.3 1823.2,1334.7 1820.8,1335.2 1818.3,1335.7 1815.9,1336.2 1813.6,1336.7 1811.2,1337.1 1808.9,1337.6 1806.6,1338 1804.2,1338.4 1801.9,1338.9 1799.5,1339.3 1797,1339.7 1794.6,1340.1 1792.2,1340.6 1789.9,1341 1787.6,1341.5 1785.3,1342 1782.9,1342.5 1780.5,1343 1778.2,1343.5 1775.8,1344 1773.4,1344.5 1770.9,1345 1768.4,1345.6 1765.9,1346.1 1763.4,1346.6 1760.8,1347.1 1758.3,1347.6 1755.7,1348.1 1753.1,1348.5 1750.4,1349 1747.7,1349.4 1745,1349.9 1742.2,1350.3 1739.5,1350.8 1736.7,1351.2 1734,1351.6 1731.2,1352.1 1728.4,1352.5 1725.6,1352.9 1722.9,1353.3 1720.1,1353.8 1717.3,1354.2 1714.4,1354.6 1711.6,1355 1708.8,1355.5 1705.9,1355.9 1703,1356.3 1700.1,1356.7 1697.2,1357.1 1694.3,1357.6 1691.4,1358 1688.5,1358.4 1685.6,1358.8 1682.6,1359.3 1679.7,1359.7 1676.8,1360.1 1673.9,1360.5 1671,1360.9 1668.1,1361.3 1665.1,1361.7 1662.2,1362.1 1659.3,1362.5 1656.4,1362.9 1653.5,1363.3 1650.6,1363.7 1647.7,1364.1 1644.7,1364.5 1641.8,1364.9 1638.9,1365.3 1636,1365.7 1633.1,1366.1 1630.2,1366.5 1627.3,1366.8 1624.4,1367.2 1621.5,1367.6 1618.6,1368 1615.6,1368.3 1612.7,1368.7 1609.8,1369.1 1606.9,1369.4 1604,1369.8 1601.1,1370.2 1598.2,1370.5 1595.3,1370.9 1592.4,1371.3 1589.5,1371.6 1586.6,1372 1583.7,1372.3 1580.8,1372.7 1577.9,1373 1575,1373.4 1572.1,1373.7 1569.2,1374 1566.3,1374.4 1563.4,1374.7 1560.5,1375.1 1557.7,1375.4 1554.8,1375.7 1551.9,1376.1 1549,1376.4 1546.1,1376.7 1543.2,1377 1540.3,1377.4 1537.4,1377.7 1534.5,1378 1531.6,1378.3 1528.7,1378.7 1525.8,1379 1522.9,1379.3 1520,1379.6 1517.1,1379.9 1514.2,1380.2 1511.4,1380.5 1508.5,1380.9 1505.6,1381.2 1502.7,1381.5 1499.8,1381.8 1496.9,1382.1 1494,1382.4 1491.1,1382.7 1488.2,1383 1485.3,1383.3 1482.4,1383.6 1479.5,1383.9 1476.6,1384.2 1473.7,1384.5 1470.9,1384.7 1468,1385 1465.1,1385.3 1462.2,1385.6 1459.3,1385.9 1456.4,1386.2 1453.5,1386.5 1450.6,1386.8 1447.7,1387 1444.8,1387.3 1441.9,1387.6 1439,1387.9 1436.2,1388.1 1433.3,1388.4 1430.4,1388.7 1427.5,1388.9 1424.6,1389.2 1421.7,1389.5 1418.8,1389.7 1415.9,1390 1413,1390.3 1410.1,1390.5 1407.2,1390.8 1404.3,1391.1 1401.4,1391.3 1398.6,1391.6 1395.7,1391.9 1392.8,1392.1 1389.9,1392.4 1387,1392.6 1384.1,1392.9 1381.2,1393.2 1378.3,1393.4 1375.4,1393.7 1372.5,1393.9 1369.6,1394.2 1366.7,1394.4 1363.8,1394.7 1360.9,1395 1358.1,1395.2 1355.2,1395.5 1352.3,1395.7 1349.4,1396 1346.5,1396.2 1343.6,1396.5 1340.7,1396.8 1337.8,1397 1334.9,1397.3 1332,1397.5 1329.1,1397.8 1326.2,1398 1323.3,1398.3 1320.4,1398.5 1317.5,1398.8 1314.6,1399 1311.7,1399.3 1308.9,1399.5 1306,1399.8 1303.1,1400 1300.2,1400.3 1297.3,1400.5 1294.4,1400.8 1291.5,1401 1288.6,1401.3 1285.7,1401.5 1282.8,1401.8 1279.9,1402 1277,1402.2 1274.1,1402.5 1271.2,1402.7 1268.3,1403 1265.4,1403.2 1262.5,1403.5 1259.7,1403.7 1256.8,1404 1253.9,1404.2 1251,1404.5 1248.1,1404.7 1245.2,1405 1242.4,1405.2 1239.5,1405.5 1236.6,1405.7 1233.7,1406 1230.8,1406.2 1228,1406.5 1225.1,1406.7 1222.2,1407 1219.4,1407.2 1216.5,1407.5 1213.7,1407.8 1210.8,1408 1208,1408.3 1205.1,1408.5 1202.3,1408.8 1199.5,1409.1 1196.7,1409.3 1193.8,1409.6 1191,1409.8 1188.2,1410.1 1185.4,1410.3 1182.5,1410.6 1179.7,1410.8 1176.9,1411.1 1174,1411.3 1171.2,1411.5 1168.4,1411.7 1165.5,1411.9 1162.6,1412.2 1159.8,1412.4 1156.9,1412.5 1154.1,1412.7 1151.2,1412.9 1148.3,1413.1 1145.4,1413.3 1142.6,1413.5 1139.7,1413.7 1136.8,1413.9 1133.9,1414.1 1131.1,1414.3 1128.2,1414.5 1125.3,1414.6 1122.4,1414.8 1119.5,1415 1116.7,1415.2 1113.8,1415.4 1110.9,1415.6 1108,1415.7 1105.1,1415.9 1102.2,1416.1 1099.4,1416.3 1096.5,1416.5 1093.6,1416.6 1090.7,1416.8 1087.8,1417 1084.9,1417.2 1082,1417.3 1079.1,1417.5 1076.3,1417.7 1073.4,1417.9 1070.5,1418.1 1067.6,1418.2 1064.7,1418.4 1061.8,1418.6 1058.9,1418.8 1056,1418.9 1053.1,1419.1 1050.2,1419.3 1047.4,1419.4 1044.5,1419.6 1041.6,1419.8 1038.7,1420 1035.8,1420.1 1032.9,1420.3 1030,1420.5 1027.1,1420.7 1024.2,1420.8 1021.3,1421 1018.4,1421.2 1015.5,1421.3 1012.6,1421.5 1009.7,1421.7 1006.8,1421.9 1003.9,1422 1001,1422.2 998.1,1422.4 995.1,1422.5 992.2,1422.7 989.2,1422.9 986.3,1423.1 983.3,1423.3 980.4,1423.4 977.4,1423.6 974.4,1423.8 971.4,1424 968.4,1424.1 965.4,1424.3 962.5,1424.5 959.5,1424.7 956.5,1424.8 953.5,1425 950.5,1425.2 947.5,1425.4 944.5,1425.6 941.5,1425.7 938.5,1425.9 935.5,1426.1 932.5,1426.3 929.6,1426.4 926.6,1426.6 923.6,1426.8 920.6,1427 917.6,1427.2 914.7,1427.3 911.7,1427.5 908.7,1427.7 905.8,1427.9 902.8,1428 899.8,1428.2 896.9,1428.4 893.9,1428.6 890.9,1428.7 888,1428.9 885,1429.1 882,1429.3 879.1,1429.5 876.1,1429.6 873.1,1429.8 870.2,1430 867.2,1430.2 864.3,1430.3 861.3,1430.5 858.4,1430.7 855.4,1430.9 852.4,1431 849.5,1431.2 846.6,1431.4 843.6,1431.6 840.7,1431.7 837.7,1431.9 834.8,1432.1 831.8,1432.3 828.9,1432.4 826,1432.6 823,1432.8 820.1,1433 817.2,1433.1 814.2,1433.3 811.3,1433.5 808.3,1433.7 805.4,1433.8 802.5,1434 799.5,1434.2 796.6,1434.4 793.7,1434.5 790.8,1434.7 787.8,1434.9 784.9,1435.1 782,1435.2 779.1,1435.4 776.1,1435.6 773.2,1435.8 770.3,1435.9 767.4,1436.1 764.5,1436.3 761.6,1436.5 758.7,1436.6 755.8,1436.8 752.8,1437 749.9,1437.2 747,1437.3 744.1,1437.5 741.2,1437.7 738.3,1437.9 735.4,1438 732.5,1438.2 729.6,1438.4 726.6,1438.6 723.7,1438.7 720.8,1438.9 717.9,1439.1 715,1439.2 712.1,1439.4 709.2,1439.6 706.3,1439.8 703.3,1439.9 700.4,1440.1 697.5,1440.3 694.6,1440.5 691.7,1440.6 688.8,1440.8 685.9,1441 683,1441.1 680,1441.3 677.1,1441.5 674.2,1441.7 671.3,1441.8 668.4,1442 665.5,1442.2 662.6,1442.3 659.6,1442.5 656.7,1442.7 653.8,1442.9 650.9,1443 648,1443.2 645.1,1443.4 642.1,1443.5 639.2,1443.7 636.3,1443.9 633.4,1444.1 630.5,1444.2 627.6,1444.4 624.6,1444.6 621.7,1444.7 618.8,1444.9 615.9,1445.1 613,1445.2 610,1445.4 607.1,1445.6 604.2,1445.7 601.3,1445.9 598.3,1446.1 595.4,1446.2 592.5,1446.4 589.6,1446.6 586.6,1446.7 583.7,1446.9 580.9,1447.1 578,1447.2 575.2,1447.4 572.4,1447.5 569.6,1447.7 566.8,1447.9 564,1448 561.2,1448.2 558.5,1448.3 555.8,1448.5 553.1,1448.6 550.3,1448.8 547.7,1449 545,1449.1 542.3,1449.3 539.5,1449.4 536.8,1449.6 534.1,1449.8 531.3,1449.9 528.6,1450.1 525.8,1450.3 523,1450.4 520.2,1450.6 517.4,1450.8 514.6,1451 511.8,1451.1 508.9,1451.3 506.1,1451.5 503.2,1451.7 500.4,1451.9 497.5,1452 494.7,1452.2 491.8,1452.4 488.9,1452.6 486,1452.8 483.1,1453 480.3,1453.2 477.4,1453.4 474.5,1453.6 471.6,1453.8 468.7,1454 465.9,1454.2 463,1454.5 460.1,1454.7 457.3,1454.9 454.4,1455.1 451.6,1455.4 448.7,1455.6 445.9,1455.8 443.1,1456.1 440.2,1456.3 437.4,1456.5 434.6,1456.8 431.7,1457 428.9,1457.3 426.1,1457.6 423.3,1457.8 420.5,1458.1 417.7,1458.4 414.9,1458.6 412.1,1458.9 409.3,1459.2 406.5,1459.4 403.7,1459.7 401,1460 398.3,1460.3 395.6,1460.6 392.9,1460.8 390.2,1461.1 387.5,1461.4 384.8,1461.7 382.1,1462 379.5,1462.2 376.8,1462.5 374.2,1462.8 371.5,1463.1 369,1463.4 366.4,1463.6 363.8,1463.9 361.2,1464.2 358.7,1464.5 356.1,1464.8 353.5,1465.1 350.9,1465.4 348.4,1465.7 345.8,1466 343.3,1466.4 340.7,1466.7 338.2,1467 335.7,1467.4 333.1,1467.8 330.6,1468.2 328.1,1468.6 325.6,1469 323.2,1469.4 320.7,1469.8 318.4,1470.3 316,1470.7 313.7,1471.2 311.5,1471.7 309.3,1472.2 307.2,1472.7 305.1,1473.2 303,1473.7 301,1474.2 299.1,1474.7 297.2,1475.2 295.3,1475.7 293.5,1476.2 291.7,1476.7 289.9,1477.3 288.1,1477.9 286.3,1478.5 284.6,1479.1 283,1479.7 281.4,1480.4 280,1481.2 278.6,1482 277.3,1482.9 276.2,1483.8 275.1,1484.7 274.1,1485.7 272.8,1486.6 271.7,1487.7 271,1488.8 270.5,1490 270.1,1491.3 269.8,1492.4 269.7,1492.9"/>
<g shape-rendering="crispEdges">
<rect x="2100.5" y="1061.2" width="20.1" height="20.1" fill="#000000"/>
</g>
<text x="123.1" y="65.1" font-size="58">0.25</text>
<text x="153.4" y="353.1" font-size="58">0.2</text>
<text x="123" y="640.4" font-size="58">0.15</text>
<text x="150.2" y="933" font-size="58">0.1</text>
<text x="122.7" y="1221.2" font-size="58">0.05</text>
<text x="199.8" y="1512.8" font-size="58">0</text>
<text x="241.1" y="1571" font-size="58">0</text>
<text x="504.5" y="1571.3" font-size="58">2</text>
<text x="769.8" y="1571.3" font-size="58">4</text>
<text x="1039.3" y="1571" font-size="58">6</text>
<text x="1302.2" y="1571" font-size="58">8</text>
<text x="1551.7" y="1571" font-size="58">10</text>
<text x="1816.6" y="1571.3" font-size="58">12</text>
<text x="2080.6" y="1571" font-size="58">14</text>
<text x="1008.2" y="1682.4" font-size="92">Time, kh</text>
<text transform="translate(85.5 767) rotate(-90)" font-size="92" text-anchor="middle">Creep strain</text>
<text transform="translate(1008.4 217) scale(0.9 1)" font-size="87.6" font-weight="bold" dx="0 4.4 0">P91</text>
<rect x="1349.6" y="121" width="699.6" height="856" fill="#fff" stroke="#000" stroke-width="3.9" shape-rendering="crispEdges"/>
<g shape-rendering="crispEdges">
<rect x="1363.7" y="172.1" width="40.7" height="16.8" fill="#ff00ff"/>
<rect x="1408.9" y="172.1" width="20.7" height="16.8" fill="#ff00ff"/>
<rect x="1433.7" y="172.1" width="37.4" height="16.8" fill="#ff00ff"/>
<rect x="1474.8" y="172.1" width="24.8" height="16.8" fill="#ff00ff"/>
<rect x="1504" y="172.1" width="37.5" height="16.8" fill="#ff00ff"/>
<rect x="1363.7" y="383.5" width="40.7" height="16.8" fill="#000000"/>
<rect x="1433.7" y="383.5" width="37.4" height="16.8" fill="#000000"/>
<rect x="1504" y="383.5" width="37.5" height="16.8" fill="#000000"/>
<rect x="1363.7" y="596.2" width="177.8" height="16.4" fill="#0000ff"/>
<rect x="1442.2" y="698.8" width="20.8" height="20.4" fill="#ff00ff"/>
<rect x="1363.7" y="806.5" width="12.2" height="16.4" fill="#ff00ff"/>
<rect x="1380.2" y="806.5" width="12.2" height="16.4" fill="#ff00ff"/>
<rect x="1396.8" y="806.5" width="12.2" height="16.4" fill="#ff00ff"/>
<rect x="1413.3" y="806.5" width="12.2" height="16.4" fill="#ff00ff"/>
<rect x="1429.9" y="806.5" width="12.2" height="16.4" fill="#ff00ff"/>
<rect x="1446.4" y="806.5" width="12.2" height="16.4" fill="#ff00ff"/>
<rect x="1463" y="806.5" width="12.2" height="16.4" fill="#ff00ff"/>
<rect x="1479.5" y="806.5" width="12.2" height="16.4" fill="#ff00ff"/>
<rect x="1496.1" y="806.5" width="12.2" height="16.4" fill="#ff00ff"/>
<rect x="1512.6" y="806.5" width="12.2" height="16.4" fill="#ff00ff"/>
<rect x="1529.2" y="806.5" width="12.2" height="16.4" fill="#ff00ff"/>
<rect x="1442.2" y="908.8" width="20.8" height="20.4" fill="#000000"/>
</g>
<polygon shape-rendering="crispEdges" fill="#ff0000" points="1442.1,275.1 1462.7,275.1 1462.7,279.5 1466.9,279.5 1466.9,295.8 1462.7,295.8 1462.7,299.9 1446.2,299.9 1446.2,295.8 1442.1,295.8 1442.1,291.8 1437.9,291.8 1437.9,283.5 1442.1,283.5"/>
<polygon shape-rendering="crispEdges" fill="#0000ff" points="1450.2,485 1454.4,485 1454.4,489.2 1458.6,489.2 1458.6,493.3 1462.7,493.3 1462.7,501.7 1458.6,501.7 1458.6,505.7 1446.2,505.7 1446.2,501.7 1442,501.7 1442,493.3 1446.2,493.3 1446.2,489.2 1450.2,489.2"/>
<text x="1554.3" y="209.1" font-size="79.5">180 MPa <tspan class="sy" x="1892.8" dy="2.3" font-size="87" font-style="italic" textLength="53.6" lengthAdjust="spacingAndGlyphs">&#981;</tspan> <tspan class="sy" x="1968.6" dy="1.3" font-size="93" textLength="64.5" lengthAdjust="spacingAndGlyphs">&#937;</tspan></text>
<text x="1554.3" y="314.8" font-size="79.5">180 MPa exp</text>
<text x="1554.3" y="420.5" font-size="79.5">150 MPa <tspan class="sy" x="1892.8" dy="2.3" font-size="87" font-style="italic" textLength="53.6" lengthAdjust="spacingAndGlyphs">&#981;</tspan> <tspan class="sy" x="1968.6" dy="1.3" font-size="93" textLength="64.5" lengthAdjust="spacingAndGlyphs">&#937;</tspan></text>
<text x="1554.3" y="526.2" font-size="79.5">150 MPa exp</text>
<text x="1554.3" y="631.9" font-size="79.5">130 MPa <tspan class="sy" x="1892.8" dy="2.3" font-size="87" font-style="italic" textLength="53.6" lengthAdjust="spacingAndGlyphs">&#981;</tspan> <tspan class="sy" x="1968.6" dy="1.3" font-size="93" textLength="64.5" lengthAdjust="spacingAndGlyphs">&#937;</tspan></text>
<text x="1554.3" y="737.6" font-size="79.5">130 MPa exp</text>
<text x="1554.3" y="843.3" font-size="79.5">110 MPa <tspan class="sy" x="1892.8" dy="2.3" font-size="87" font-style="italic" textLength="53.6" lengthAdjust="spacingAndGlyphs">&#981;</tspan> <tspan class="sy" x="1968.6" dy="1.3" font-size="93" textLength="64.5" lengthAdjust="spacingAndGlyphs">&#937;</tspan></text>
<text x="1554.3" y="949" font-size="79.5">110 MPa exp</text>
</svg></body></html>
